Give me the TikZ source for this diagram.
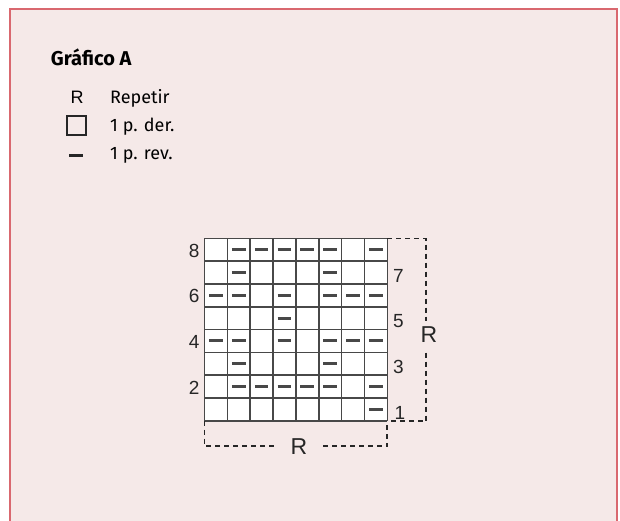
\documentclass[tikz,border=0pt]{standalone}
\usepackage{fontspec}
\setmainfont{Fira Sans}
\newfontfamily\chartfont{Liberation Sans}
\usetikzlibrary{positioning,calc}
\definecolor{panelpink}{HTML}{F5E9E8}
\definecolor{panelred}{HTML}{D9686F}
\definecolor{chartgray}{HTML}{484848}
\tikzset{
  panel/.style={
    draw=panelred,
    fill=panelpink,
    line width=2pt
  },
  heading/.style={
    font=\fontsize{20}{22}\selectfont\bfseries,
    inner sep=0pt,
    anchor=base west
  },
  keytext/.style={
    font=\fontsize{18}{20}\selectfont,
    inner sep=0pt,
    anchor=base west
  },
  keysym/.style={
    font=\chartfont\fontsize{18}{20}\selectfont,
    inner sep=0pt
  },
  keybox/.style={
    draw=black!85,
    line width=2.2pt,
    minimum size=19pt,
    inner sep=0pt
  },
  keydash/.style={
    fill=black!85,
    minimum width=14.5pt,
    minimum height=3pt,
    inner sep=0pt
  },
  cellline/.style={
    draw=chartgray,
    line width=1.6pt
  },
  purl/.style={
    chartgray,
    line width=3pt
  },
  rownum/.style={
    font=\chartfont\fontsize{19}{20}\selectfont,
    inner sep=0pt,
    text=black!85
  },
  repeatline/.style={
    draw=black!85,
    line width=1.8pt,
    dash pattern=on 5pt off 4pt
  },
  repeatlabel/.style={
    font=\chartfont\fontsize{23}{24}\selectfont,
    fill=panelpink,
    inner xsep=13pt,
    inner ysep=6pt,
    text=black!85
  }
}

\begin{document}
\begin{tikzpicture}[x=1pt,y=-1pt]
\useasboundingbox[fill=white] (0,0) rectangle (620,521);
\draw[panel] (10,9.5) rectangle (617,560);

% legend
\node[heading] (title) at (50.7,65.5) {Gráfico A};
\node[keysym] (keyR) at (77,97.5) {R};
\node[keybox] (keyKnit) at (76.3,125.8) {};
\node[keydash] (keyPurl) at (76,156) {};
\node[keytext] (txtRepeat) at (110,103.3) {Repetir};
\node[keytext] (txtKnit) at (110,131.5) {1 p. der.};
\node[keytext] (txtPurl) at (110,159.5) {1 p. rev.};

% chart
\coordinate (sw) at (204.5,420.7);
\coordinate (ne) at (387.3,238.5);
\coordinate (se) at (ne |- sw);

\begin{scope}[shift={(sw)},x=22.85pt,y=22.8pt]
\fill[white] (0,0) rectangle (8,8);
\foreach \i in {0,...,8} {
  \draw[cellline] (\i,0) -- (\i,8);
  \draw[cellline] (0,\i) -- (8,\i);
}
\foreach \r/\cols in {8/{2,3,4,5,6,8},7/{2,6},6/{1,2,4,6,7,8},5/{4},
                      4/{1,2,4,6,7,8},3/{2,6},2/{2,3,4,5,6,8},1/{8}}
  \foreach \c in \cols
    \draw[purl] (\c-0.8,\r-0.5) -- (\c-0.2,\r-0.5);
\foreach \r in {2,4,6,8}
  \node[rownum] (row\r) at (-0.45,\r-0.55) {\r};
\foreach \r in {3,5,7}
  \node[rownum] (row\r) at (8.49,\r-0.63) {\r};
\node[rownum] (row1) at (8.55,0.33) {1};
\end{scope}

% repeat brackets
\coordinate (rtop) at ($(ne)+(39,0)$);
\coordinate (rbot) at (rtop |- se);
\draw[repeatline] (ne) -- (rtop) -- (rbot) -- (se);
\node[repeatlabel] (repRows) at ($(rtop)!0.53!(rbot)+(2.5,0)$) {R};

\coordinate (bl) at ($(sw)+(0,25.5)$);
\coordinate (br) at (se |- bl);
\draw[repeatline] (sw) -- (bl) -- (br) -- (se);
\node[repeatlabel] (repCols) at ($(bl)!0.516!(br)$) {R};

\end{tikzpicture}
\end{document}
